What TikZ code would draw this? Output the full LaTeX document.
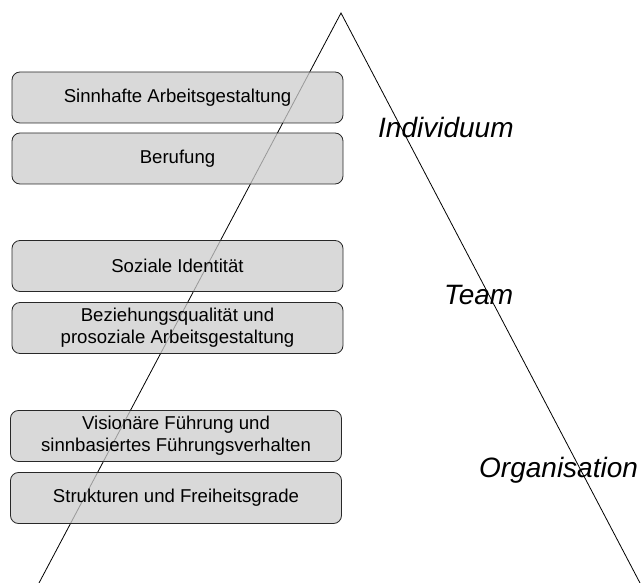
\documentclass[tikz,border=0pt]{standalone}
\usepackage{fontspec}
\setmainfont{Liberation Sans}
\definecolor{boxgray}{RGB}{204, 204, 204}
\definecolor{rimgray}{RGB}{40, 40, 40}
\usepackage{tikz}
\usetikzlibrary{positioning}

\begin{document}
\begin{tikzpicture}[x=1pt, y=-1pt,
    faktor/.style={draw=rimgray, line width=0.8pt, fill=boxgray, fill opacity=0.75, text opacity=1,
      rounded corners=8pt, minimum width=331pt, minimum height=51pt, align=center, inner sep=2pt,
      font=\fontsize{18.6}{21.7}\selectfont},
    ebene/.style={anchor=base west, inner sep=0pt, font=\fontsize{28}{31}\selectfont\itshape}]
  \useasboundingbox (0, 0) rectangle (641, 583);

  % Pyramid
  \coordinate (spitze) at (341, 13);
  \coordinate (links) at (39, 583);
  \coordinate (rechts) at (640, 583);
  \draw[line width=0.8pt] (links) -- (spitze) -- (rechts);

  % Individuum
  \node[faktor] (sinn) at (177.5, 97.5) {Sinnhafte Arbeitsgestaltung};
  \node[faktor] (berufung) at (177.5, 158.5) {Berufung};

  % Team
  \node[faktor] (identitaet) at (177.5, 266) {Soziale Identität};
  \node[faktor] (beziehung) at (177.5, 328) {Beziehungsqualität und\\prosoziale Arbeitsgestaltung};

  % Organisation
  \node[faktor] (fuehrung) at (176, 436) {Visionäre Führung und\\sinnbasiertes Führungsverhalten};
  \node[faktor] (strukturen) at (176, 498) {Strukturen und Freiheitsgrade};

  % Ebenen
  \node[ebene] (individuum) at (378, 138) {Individuum};
  \node[ebene] (team) at (444, 305) {Team};
  \node[ebene] (organisation) at (479, 477) {Organisation};
\end{tikzpicture}
\end{document}
